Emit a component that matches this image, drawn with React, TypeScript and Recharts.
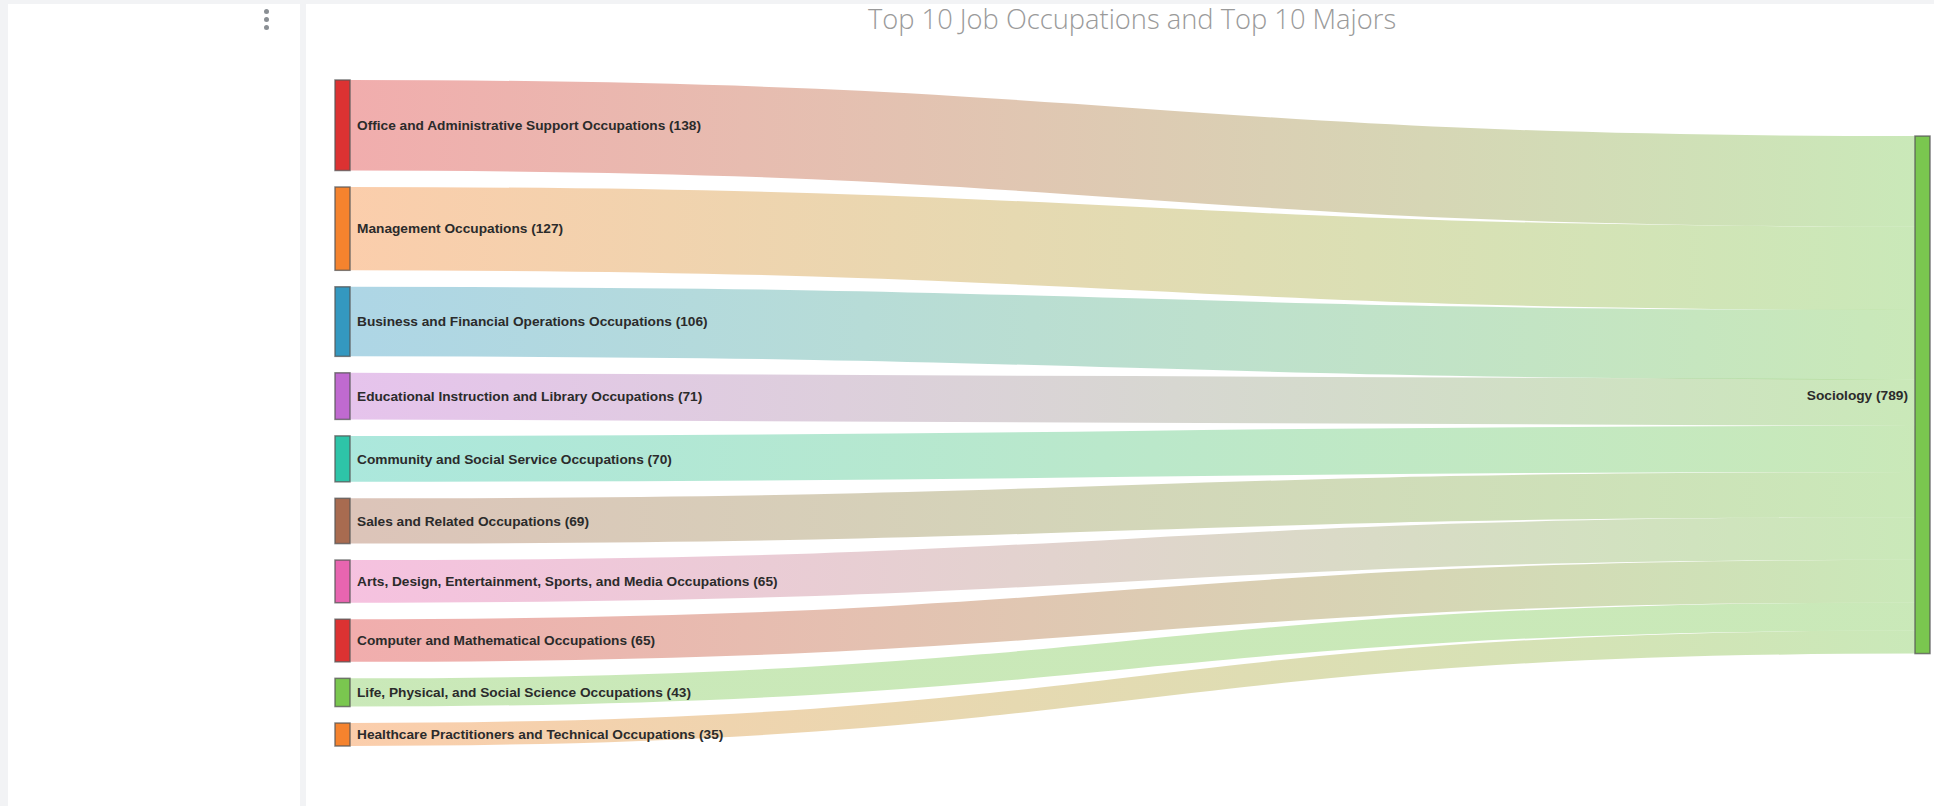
import React from "react";
import { Sankey } from "recharts";

// left column: job occupations and their counts
const occupations = [
  "Office and Administrative Support Occupations",
  "Management Occupations",
  "Business and Financial Operations Occupations",
  "Educational Instruction and Library Occupations",
  "Community and Social Service Occupations",
  "Sales and Related Occupations",
  "Arts, Design, Entertainment, Sports, and Media Occupations",
  "Computer and Mathematical Occupations",
  "Life, Physical, and Social Science Occupations",
  "Healthcare Practitioners and Technical Occupations",
];
const occupationCounts = [138, 127, 106, 71, 70, 69, 65, 65, 43, 35];

// right column: majors
const majors = ["Sociology"];

const OCC_COLORS = [
  "#dc3232",
  "#f5832e",
  "#3498c0",
  "#c06ad0",
  "#2ec4a8",
  "#a86b50",
  "#e865b0",
  "#dc3232",
  "#7ac74f",
  "#f5832e",
];
const MAJOR_COLORS = ["#7ac74f"];

const nodes = [
  ...occupations.map((name, i) => ({ name, color: OCC_COLORS[i] })),
  ...majors.map((name, i) => ({ name, color: MAJOR_COLORS[i] })),
];
const links = occupations.map((_, i) => ({
  source: i,
  target: occupations.length,
  value: occupationCounts[i],
}));

const LABEL_FONT = "Arial, 'Liberation Sans', sans-serif";

function FlowNode(props: any) {
  const { x, y, width, height, payload } = props;
  const isLeft = payload.depth === 0;
  return (
    <g>
      <rect
        x={x}
        y={y}
        width={width}
        height={height}
        fill={payload.color}
        stroke="#555"
        strokeOpacity={0.75}
        strokeWidth={1.5}
      />
      <text
        x={isLeft ? x + width + 7 : x - 7}
        y={y + height / 2}
        dy="0.35em"
        textAnchor={isLeft ? "start" : "end"}
        fontFamily={LABEL_FONT}
        fontWeight="bold"
        fontSize={13.7}
        fill="#2b2b2b"
      >
        {`${payload.name} (${payload.value})`}
      </text>
    </g>
  );
}

function FlowLink(props: any) {
  const {
    sourceX,
    targetX,
    sourceY,
    targetY,
    sourceControlX,
    targetControlX,
    linkWidth,
    index,
    payload,
  } = props;
  const id = `flow-grad-${index}`;
  return (
    <g>
      <defs>
        <linearGradient id={id} gradientUnits="userSpaceOnUse" x1={sourceX} y1={0} x2={targetX} y2={0}>
          <stop offset="0%" stopColor={payload.source.color} />
          <stop offset="100%" stopColor={payload.target.color} />
        </linearGradient>
      </defs>
      <path
        d={`M${sourceX},${sourceY}C${sourceControlX},${sourceY} ${targetControlX},${targetY} ${targetX},${targetY}`}
        fill="none"
        stroke={`url(#${id})`}
        strokeWidth={linkWidth}
        strokeOpacity={0.4}
      />
    </g>
  );
}

export default function App() {
  return (
    <div
      style={{
        position: "absolute",
        left: 0,
        top: 0,
        width: 1934,
        height: 806,
        background: "#f2f3f5",
        overflow: "hidden",
      }}
    >
      <div style={{ position: "absolute", left: 8, top: 4, width: 292, height: 802, background: "#fff" }} />
      {[11, 19, 27].map((cy) => (
        <div
          key={cy}
          style={{
            position: "absolute",
            left: 264,
            top: cy - 2.5,
            width: 5,
            height: 5,
            borderRadius: "50%",
            background: "#8a8f94",
          }}
        />
      ))}
      <div style={{ position: "absolute", left: 306, top: 4, width: 1628, height: 802, background: "#fff" }} />
      <div
        style={{
          position: "absolute",
          left: 1132,
          top: 0,
          transform: "translateX(-50%)",
          whiteSpace: "nowrap",
          fontFamily: "'Open Sans', sans-serif",
          fontWeight: 300,
          fontSize: 27.3,
          color: "#9a9a9a",
        }}
      >
        Top 10 Job Occupations and Top 10 Majors
      </div>
      <div style={{ position: "absolute", left: 0, top: 0 }}>
        <Sankey
          width={1934}
          height={806}
          data={{ nodes, links }}
          margin={{ left: 335, right: 4, top: 80, bottom: 60 }}
          nodeWidth={15}
          nodePadding={16.5}
          sort={false}
          node={(p: any) => <FlowNode {...p} />}
          link={(p: any) => <FlowLink {...p} />}
        />
      </div>
    </div>
  );
}
